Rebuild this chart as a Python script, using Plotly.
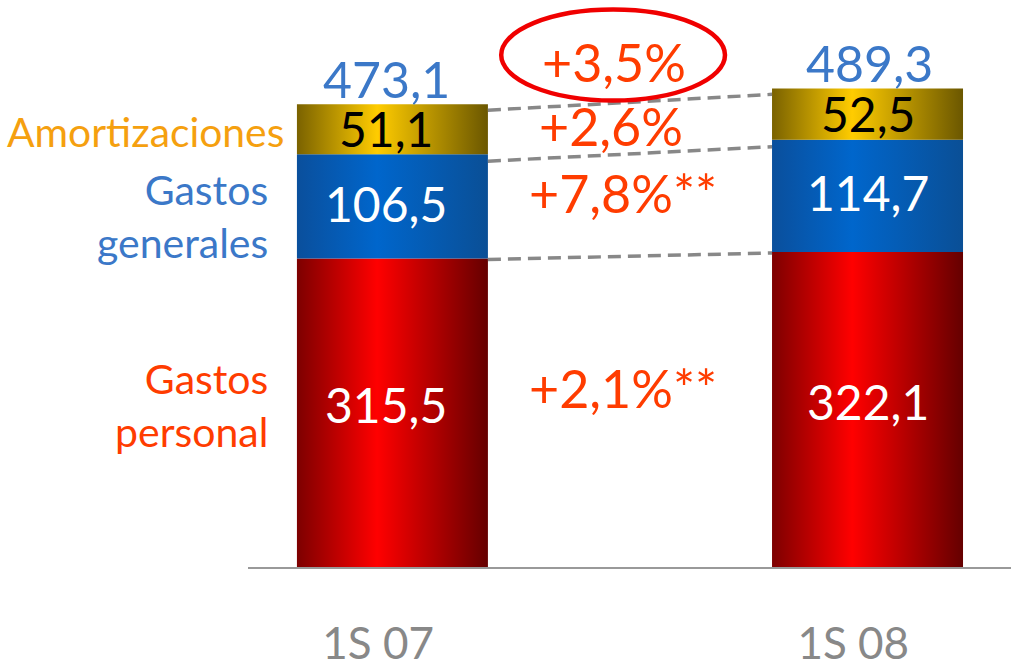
import plotly.graph_objects as go
import numpy as np

categories = ["1S 07", "1S 08"]
series_names = ["Gastos personal", "Gastos generales", "Amortizaciones"]
personal = [315.5, 322.1]
generales = [106.5, 114.7]
amortizaciones = [51.1, 52.5]
totals = [473.1, 489.3]
value_labels = {
    "personal": ["315,5", "322,1"],
    "generales": ["106,5", "114,7"],
    "amortizaciones": ["51,1", "52,5"],
}
total_labels = ["473,1", "489,3"]
change_labels = ["+3,5%", "+2,6%", "+7,8%**", "+2,1%**"]

FONT = "Lato, 'Open Sans', sans-serif"
BLUE = "#3b78c8"
ORANGE = "#f5a00f"
REDTXT = "#ff3c00"

series = [personal, generales, amortizaciones]
gradients = [
    [[0, "#7d0000"], [0.42, "#ff0000"], [1, "#650000"]],
    [[0, "#0a4f9c"], [0.42, "#0066cc"], [1, "#0a4f96"]],
    [[0, "#7a6200"], [0.42, "#ffcc00"], [1, "#6b5700"]],
]
xpos = np.arange(len(categories), dtype=float)
W = 0.402

fig = go.Figure()
base = np.zeros(len(categories))
bounds = [base.copy()]
for vals, grad in zip(series, gradients):
    vals = np.array(vals)
    for i, c in enumerate(xpos):
        b, t = base[i], base[i] + vals[i]
        fig.add_trace(go.Scatter(
            x=[c - W / 2, c + W / 2, c + W / 2, c - W / 2, c - W / 2],
            y=[b, b, t, t, b],
            mode="lines", fill="toself", line=dict(width=0),
            fillgradient=dict(type="horizontal", colorscale=grad),
            hoverinfo="skip", showlegend=False,
        ))
    base = base + vals
    bounds.append(base.copy())

# segment value labels
seg_keys = ["personal", "generales", "amortizaciones"]
seg_colors = ["white", "white", "black"]
seg_shift = [8, 3, 1]
for k, (key, col) in enumerate(zip(seg_keys, seg_colors)):
    for i, c in enumerate(xpos):
        mid = (bounds[k][i] + bounds[k + 1][i]) / 2
        fig.add_annotation(x=c, y=mid, text=value_labels[key][i], showarrow=False,
                           font=dict(family=FONT, size=48, color=col), yshift=seg_shift[k],
                           xshift=-6 if i == 0 else 0)

# totals
for i, c in enumerate(xpos):
    fig.add_annotation(x=c, y=totals[i], text=total_labels[i], showarrow=False,
                       yanchor="bottom", yshift=-7, xshift=-6 if i == 0 else 2,
                       font=dict(family=FONT, size=50, color=BLUE))

# dashed connectors
for k, off in [(3, 6), (2, 7), (1, 1)]:
    fig.add_shape(type="line", x0=xpos[0] + W / 2, y0=bounds[k][0] - off,
                  x1=xpos[1] - W / 2, y1=bounds[k][1] - off,
                  line=dict(color="#888888", width=3.5, dash="13px,7px"))

# change labels
change_x = [0.466, 0.459, 0.283, 0.283]
change_y = [516, 451, 382, 183]
for lab, xx, yy in zip(change_labels, change_x, change_y):
    fig.add_annotation(x=xx, y=yy, text=lab, showarrow=False,
                       xanchor="left" if "**" in lab else "center",
                       font=dict(family=FONT, size=52, color=REDTXT))

# ellipse around total change
fig.add_shape(type="circle", xref="x", yref="y",
              x0=0.229, x1=0.70, y0=477, y1=570,
              line=dict(color="#f00000", width=4.5))

# series labels on the left
left_labels = ["Gastos<br>personal", "Gastos<br>generales", "Amortizaciones"]
left_colors = [REDTXT, BLUE, ORANGE]
left_shift = [-27, -27, -11]
left_yshift = [8, -10, -2]
for k in range(3):
    mid = (bounds[k][0] + bounds[k + 1][0]) / 2
    fig.add_annotation(x=xpos[0] - W / 2, y=mid, text=left_labels[k], showarrow=False,
                       xanchor="right", align="right", xshift=left_shift[k],
                       yshift=left_yshift[k],
                       font=dict(family=FONT, size=41 if k < 2 else 40.8, color=left_colors[k]))

fig.update_layout(
    width=1011, height=661,
    margin=dict(l=248, r=0, t=0, b=94, autoexpand=False),
    paper_bgcolor="white", plot_bgcolor="white",
    showlegend=False,
    xaxis=dict(range=[-0.304, 1.302], tickvals=xpos - 0.03, ticktext=categories,
               automargin=False,
               showgrid=False, zeroline=False, showline=True, linecolor="#999999",
               linewidth=2, ticks="outside", ticklen=37, tickcolor="rgba(0,0,0,0)",
               tickfont=dict(family=FONT, size=44, color="#888888")),
    yaxis=dict(range=[0, 579.8], visible=False, showgrid=False, zeroline=False,
               automargin=False),
)

fig.write_html("out.html", config={"displayModeBar": False},
               post_script="document.body.style.margin='0';")
